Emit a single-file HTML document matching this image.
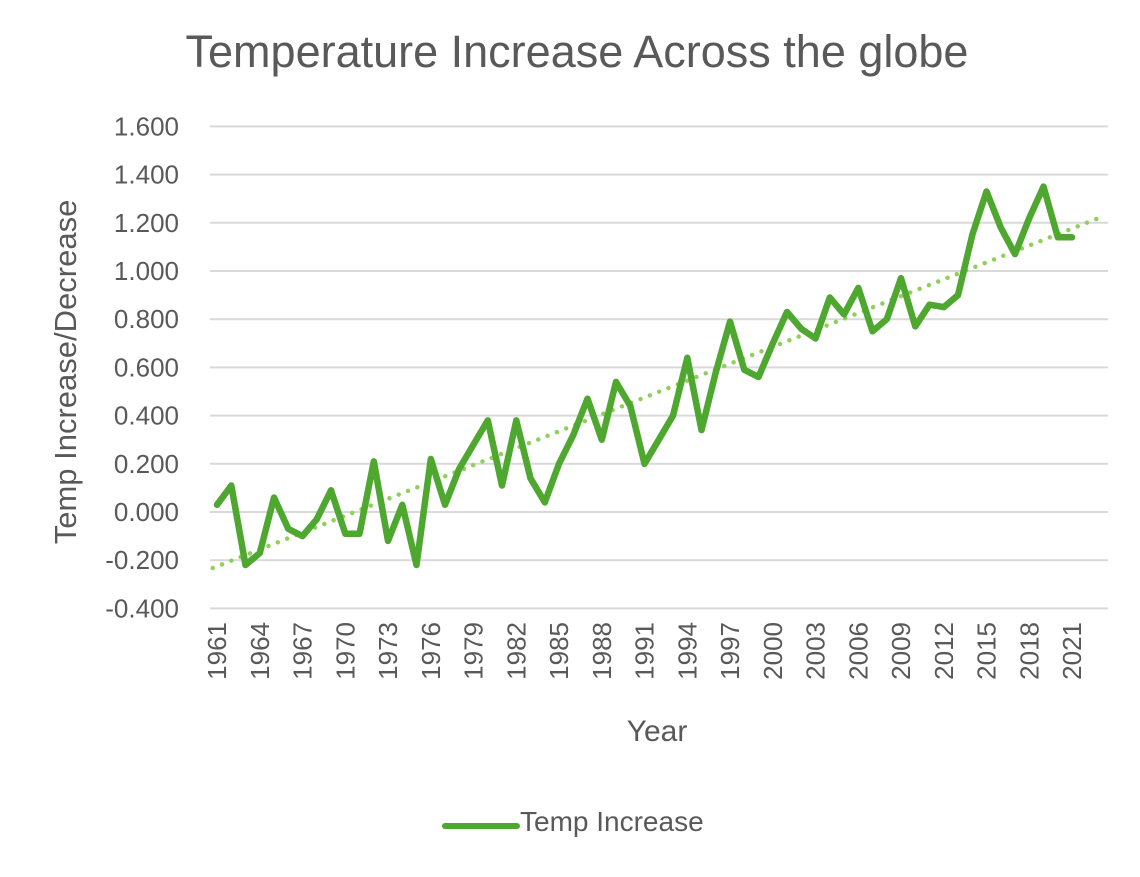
<!DOCTYPE html>
<html><head><meta charset="utf-8"><style>
html,body{margin:0;padding:0;background:#fff;}
svg text{font-family:"Liberation Sans",sans-serif;fill:#595959;}
</style></head><body>
<svg id="chart" width="1140" height="872" viewBox="0 0 1140 872" xmlns="http://www.w3.org/2000/svg">
<rect width="1140" height="872" fill="#fff"/>
<text x="577" y="67" font-size="45" text-anchor="middle">Temperature Increase Across the globe</text>
<g id="grid"></g>
<g id="yticks"></g>
<g id="xticks"></g>
<text transform="translate(76,372) rotate(-90)" font-size="31" text-anchor="middle">Temp Increase/Decrease</text>
<text x="657" y="741" font-size="30" text-anchor="middle">Year</text>
<g id="series"></g>
<g>
<line x1="445" y1="826" x2="517" y2="826" stroke="#4EA72E" stroke-width="6" stroke-linecap="round"/>
<text x="520" y="831" font-size="28">Temp Increase</text>
</g>
</svg>
<script>
const years = [1961,1962,1963,1964,1965,1966,1967,1968,1969,1970,1971,1972,1973,1974,1975,1976,1977,1978,1979,1980,1981,1982,1983,1984,1985,1986,1987,1988,1989,1990,1991,1992,1993,1994,1995,1996,1997,1998,1999,2000,2001,2002,2003,2004,2005,2006,2007,2008,2009,2010,2011,2012,2013,2014,2015,2016,2017,2018,2019,2020,2021];
const tempValues = [0.03,0.11,-0.22,-0.17,0.06,-0.07,-0.10,-0.03,0.09,-0.09,-0.09,0.21,-0.12,0.03,-0.22,0.22,0.03,0.18,0.28,0.38,0.11,0.38,0.14,0.04,0.20,0.32,0.47,0.30,0.54,0.44,0.20,0.30,0.40,0.64,0.34,0.58,0.79,0.59,0.56,0.70,0.83,0.76,0.72,0.89,0.82,0.93,0.75,0.80,0.97,0.77,0.86,0.85,0.90,1.15,1.33,1.18,1.07,1.22,1.35,1.14,1.14];
const yTicks = [-0.4,-0.2,0,0.2,0.4,0.6,0.8,1.0,1.2,1.4,1.6];
const xLabelEvery = 3;

const NS="http://www.w3.org/2000/svg";
const plotLeft=210, plotRight=1108;
function xScale(i){return 217 + i*14.25;}
function yScale(v){return 512 - v*241;}
function mk(tag,attrs,parent){const e=document.createElementNS(NS,tag);for(const k in attrs)e.setAttribute(k,attrs[k]);parent.appendChild(e);return e;}

const grid=document.getElementById('grid'), yt=document.getElementById('yticks'), xt=document.getElementById('xticks'), ser=document.getElementById('series');
yTicks.forEach(v=>{
  const y=yScale(v);
  const l=mk('line',{x1:plotLeft,x2:plotRight,y1:y,y2:y,stroke:'#d9d9d9','stroke-width':2},grid);
  
  
  const t=mk('text',{x:179,y:y+9,'font-size':26,'text-anchor':'end'},yt);
  t.textContent=(v<0?'-':'')+Math.abs(v).toFixed(3);
  
  
});
years.forEach((yr,i)=>{
  if(i%xLabelEvery!==0)return;
  const x=xScale(i);
  const t=mk('text',{transform:`translate(${x+9},${622}) rotate(-90)`,'font-size':26,'text-anchor':'end'},xt);
  t.textContent=yr;
  
  
});
// linear trendline (least squares)
const n=tempValues.length;
let sx=0,sy=0,sxx=0,sxy=0;
tempValues.forEach((v,i)=>{sx+=i;sy+=v;sxx+=i*i;sxy+=i*v;});
const slope=(n*sxy-sx*sy)/(n*sxx-sx*sx), icpt=(sy-slope*sx)/n;
const i0=-0.3, i1=62.3;
const tr=mk('line',{x1:xScale(i0),y1:yScale(icpt+slope*i0),x2:xScale(i1),y2:yScale(icpt+slope*i1),stroke:'#8ED05A','stroke-width':4.5,'stroke-dasharray':'0 10','stroke-linecap':'round'},ser);


const pts=tempValues.map((v,i)=>xScale(i).toFixed(1)+','+yScale(v).toFixed(1)).join(' ');
const pl=mk('polyline',{points:pts,fill:'none',stroke:'#4EA72E','stroke-width':6.5,'stroke-linejoin':'round','stroke-linecap':'round'},ser);


</script>
</body></html>
